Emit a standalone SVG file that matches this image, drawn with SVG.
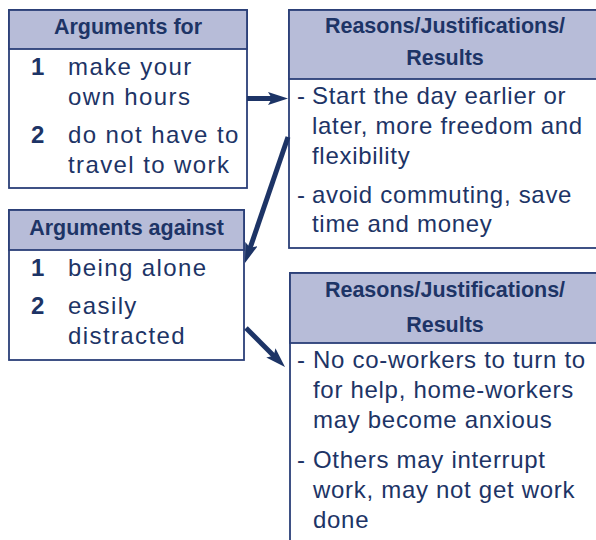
<svg xmlns="http://www.w3.org/2000/svg" width="596" height="540" viewBox="0 0 596 540">
<style>
.box{fill:#ffffff;stroke:#2b3f78;stroke-width:1.8}
.hdr{fill:#b7bcd8;stroke:#2b3f78;stroke-width:1.8}
.ht{font-family:"Liberation Sans",Arial,sans-serif;font-weight:bold;font-size:21.5px;fill:#1d3466;text-anchor:middle}
.num{font-family:"Liberation Sans",Arial,sans-serif;font-weight:bold;font-size:24px;fill:#1d3466}
.bt{font-family:"Liberation Sans",Arial,sans-serif;font-size:24px;fill:#1d3466;letter-spacing:1.4px}
.rt{font-family:"Liberation Sans",Arial,sans-serif;font-size:24px;fill:#1d3466;letter-spacing:0.7px}
.conn{stroke:#1d3466;stroke-width:5;fill:none}
</style>
<defs>
<marker id="ah" viewBox="0 0 20 13" refX="5" refY="6.5" markerWidth="20" markerHeight="13" orient="auto" markerUnits="userSpaceOnUse">
<path d="M0,0 L20,6.5 L0,13 L4,6.5 Z" fill="#1d3466"/>
</marker>
</defs>
<g id="args-for">
<rect class="box" x="9" y="10" width="238" height="178"/>
<rect class="hdr" x="9" y="10" width="238" height="39"/>
<text class="ht" x="128" y="34">Arguments for</text>
<text class="num" x="31" y="75">1</text>
<text class="bt" x="68" y="75">make your</text>
<text class="bt" x="68" y="105">own hours</text>
<text class="num" x="31" y="143">2</text>
<text class="bt" x="68" y="143">do not have to</text>
<text class="bt" x="68" y="173">travel to work</text>
</g>
<g id="reasons-for">
<rect class="box" x="289" y="10" width="320" height="238"/>
<rect class="hdr" x="289" y="10" width="320" height="69"/>
<text class="ht" x="445" y="33">Reasons/Justifications/</text>
<text class="ht" x="445" y="65">Results</text>
<text class="rt" x="297" y="104">-</text>
<text class="rt" x="312" y="104">Start the day earlier or</text>
<text class="rt" x="312" y="134">later, more freedom and</text>
<text class="rt" x="312" y="164">flexibility</text>
<text class="rt" x="297" y="203">-</text>
<text class="rt" x="312" y="203">avoid commuting, save</text>
<text class="rt" x="312" y="232">time and money</text>
</g>
<g id="args-against">
<rect class="box" x="9" y="210" width="235" height="150"/>
<rect class="hdr" x="9" y="210" width="235" height="40"/>
<text class="ht" x="126.5" y="235">Arguments against</text>
<text class="num" x="31" y="276">1</text>
<text class="bt" x="68" y="276">being alone</text>
<text class="num" x="31" y="314">2</text>
<text class="bt" x="68" y="314">easily</text>
<text class="bt" x="68" y="344">distracted</text>
</g>
<g id="reasons-against">
<rect class="box" x="290" y="273" width="320" height="280"/>
<rect class="hdr" x="290" y="273" width="320" height="70"/>
<text class="ht" x="445" y="297">Reasons/Justifications/</text>
<text class="ht" x="445" y="332">Results</text>
<text class="rt" x="297" y="368">-</text>
<text class="rt" x="313" y="368">No co-workers to turn to</text>
<text class="rt" x="313" y="398">for help, home-workers</text>
<text class="rt" x="313" y="428">may become anxious</text>
<text class="rt" x="297" y="468">-</text>
<text class="rt" x="313" y="468">Others may interrupt</text>
<text class="rt" x="313" y="498">work, may not get work</text>
<text class="rt" x="313" y="528">done</text>
</g>
<g id="connectors">
<line class="conn" x1="247" y1="98.5" x2="273" y2="98.5" marker-end="url(#ah)"/>
<line class="conn" x1="288" y1="137" x2="249.8" y2="248.8" marker-end="url(#ah)"/>
<line class="conn" x1="246" y1="328" x2="274.4" y2="356.4" marker-end="url(#ah)"/>
</g>
</svg>
